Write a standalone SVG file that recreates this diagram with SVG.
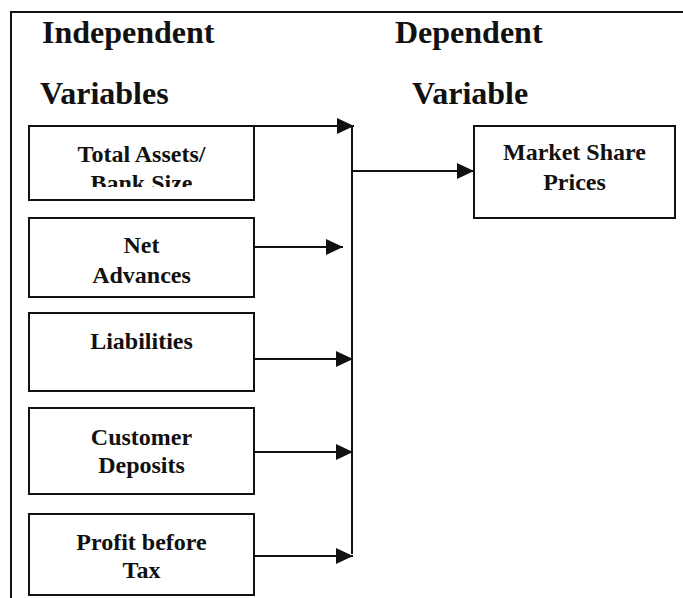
<svg xmlns="http://www.w3.org/2000/svg" width="683" height="598" viewBox="0 0 683 598">
<defs>
<style>
.frame{fill:none;stroke:#111;stroke-width:2}
.box{fill:#fff;stroke:#111;stroke-width:2}
.conn{fill:none;stroke:#111;stroke-width:2}
.head{font-family:"Liberation Serif","Times New Roman",serif;font-weight:bold;font-size:32px;fill:#111}
.lbl{font-family:"Liberation Serif","Times New Roman",serif;font-weight:bold;font-size:24px;fill:#111;text-anchor:middle}
</style>
<marker id="arr" markerUnits="userSpaceOnUse" markerWidth="18" markerHeight="18" refX="17" refY="8" orient="auto">
<path d="M0,0 L17,8 L0,16 Z" fill="#111"/>
</marker>
<clipPath id="clip1"><rect x="29" y="126" width="225" height="61"/></clipPath>
</defs>
<rect width="683" height="598" fill="#fff"/>
<g id="frame">
<path class="frame" d="M11,598 V12 H683"/>
</g>
<g id="headings">
<text class="head" x="42" y="43">Independent</text>
<text class="head" x="395" y="43">Dependent</text>
<text class="head" x="40" y="104">Variables</text>
<text class="head" x="412" y="104">Variable</text>
</g>
<g id="connectors">
<path class="conn" d="M352,126 V554"/>
<path class="conn" d="M254,126 H354" marker-end="url(#arr)"/>
<path class="conn" d="M254,247 H343" marker-end="url(#arr)"/>
<path class="conn" d="M254,359 H353" marker-end="url(#arr)"/>
<path class="conn" d="M254,452 H353" marker-end="url(#arr)"/>
<path class="conn" d="M254,556 H353" marker-end="url(#arr)"/>
<path class="conn" d="M352,171 H474" marker-end="url(#arr)"/>
</g>
<g id="node-total-assets">
<rect class="box" x="29" y="126" width="225" height="74"/>
<g clip-path="url(#clip1)">
<text class="lbl" x="141.5" y="162">Total Assets/</text>
<text class="lbl" x="141.5" y="191">Bank Size</text>
</g>
</g>
<g id="node-net-advances">
<rect class="box" x="29" y="218" width="225" height="79"/>
<text class="lbl" x="141.5" y="253">Net</text>
<text class="lbl" x="141.5" y="283">Advances</text>
</g>
<g id="node-liabilities">
<rect class="box" x="29" y="313" width="225" height="78"/>
<text class="lbl" x="141.5" y="349">Liabilities</text>
</g>
<g id="node-customer-deposits">
<rect class="box" x="29" y="408" width="225" height="86"/>
<text class="lbl" x="141.5" y="445">Customer</text>
<text class="lbl" x="141.5" y="473">Deposits</text>
</g>
<g id="node-profit-before-tax">
<rect class="box" x="29" y="514" width="225" height="81"/>
<text class="lbl" x="141.5" y="550">Profit before</text>
<text class="lbl" x="141.5" y="578">Tax</text>
</g>
<g id="node-market-share-prices">
<rect class="box" x="474" y="126" width="201" height="92"/>
<text class="lbl" x="574.5" y="160">Market Share</text>
<text class="lbl" x="574.5" y="190">Prices</text>
</g>
</svg>
